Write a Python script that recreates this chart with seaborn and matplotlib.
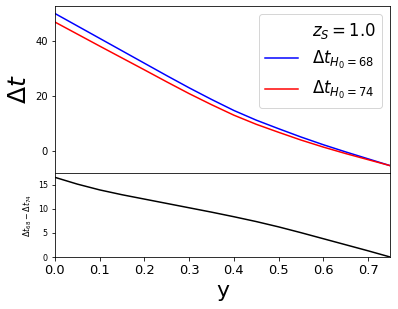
import numpy as np
import matplotlib
matplotlib.use("Agg")
import matplotlib.pyplot as plt
import seaborn as sns

# image-plane position y
y_pos = [0.00, 0.05, 0.10, 0.15, 0.20, 0.25, 0.30, 0.35,
         0.40, 0.45, 0.50, 0.55, 0.60, 0.65, 0.70, 0.75]

# time delays for the two H0 values
dt_68 = [49.9, 45.4, 40.9, 36.4, 31.9, 27.4, 23.0, 18.8,
         14.8, 11.3, 8.2, 5.2, 2.4, -0.2, -2.7, -5.2]
dt_74 = [46.8, 42.45, 38.1, 33.8, 29.5, 25.15, 20.9, 16.9,
         13.1, 9.8, 6.9, 4.1, 1.55, -0.8, -3.0, -5.2]

# difference panel
dt_diff = [16.5, 15.1, 13.9, 12.9, 12.0, 11.1, 10.2, 9.3,
           8.35, 7.35, 6.25, 5.05, 3.8, 2.55, 1.3, 0.0]

z_s = 1.0

fig = plt.figure(figsize=(398 / 72, 309 / 72), dpi=72)
gs = fig.add_gridspec(2, 1, height_ratios=[2, 1], hspace=0,
                      left=0.138, right=0.981, top=0.981, bottom=0.168)
ax1 = fig.add_subplot(gs[0])
ax2 = fig.add_subplot(gs[1], sharex=ax1)

# top panel: both delay curves
ax1.plot([], [], ' ', label=r'$z_S = %.1f$' % z_s)
sns.lineplot(x=y_pos, y=dt_68, color='blue', lw=1.5, ax=ax1,
             label=r'$\Delta t_{H_0=68}$')
sns.lineplot(x=y_pos, y=dt_74, color='red', lw=1.5, ax=ax1,
             label=r'$\Delta t_{H_0=74}$')
ax1.set_ylabel(r'$\Delta t$', fontsize=25)
ax1.set_yticks([0, 20, 40])
ax1.tick_params(axis='y', labelsize=10)
ax1.tick_params(axis='x', labelbottom=False)
ax1.legend(loc='upper right', fontsize=16.5)

# bottom panel: difference
sns.lineplot(x=y_pos, y=dt_diff, color='black', lw=1.5, ax=ax2)
ax2.set_ylabel(r'$\Delta t_{68} - \Delta t_{74}$', fontsize=8)
ax2.set_xlabel('y', fontsize=22)
ax2.set_xlim(0, 0.75)
ax2.set_ylim(0, None)
ax2.set_yticks([0, 5, 10, 15])
ax2.tick_params(axis='x', labelsize=13)
ax2.tick_params(axis='y', labelsize=8)

fig.savefig('out.png', dpi=72)
